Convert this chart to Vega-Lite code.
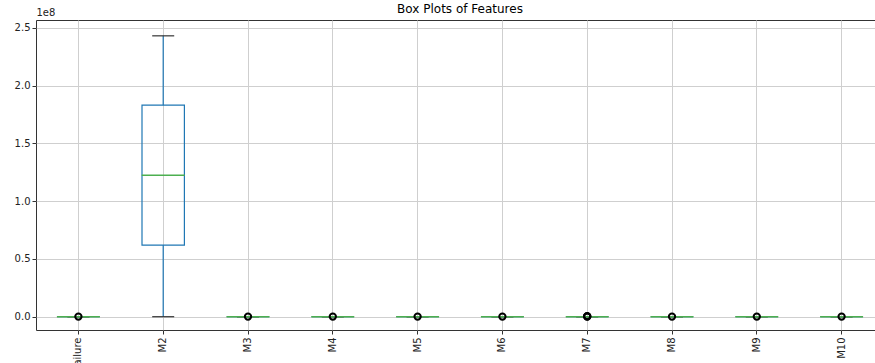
{
  "$schema": "https://vega.github.io/schema/vega-lite/v6.json",
  "autosize": {"type": "none"},
  "width": 848,
  "height": 310,
  "padding": {"left": 36, "top": 20, "right": 0, "bottom": 33},
  "background": "white",
  "title": {"text": "Box Plots of Features", "font": "DejaVu Sans", "fontSize": 12, "fontWeight": "normal", "color": "#000000", "anchor": "middle", "offset": -9},
  "config": {
    "view": {"stroke": "#333333", "strokeWidth": 1},
    "axis": {"labelFont": "DejaVu Sans", "labelFontSize": 10, "labelColor": "#222222", "gridColor": "#cfcfcf", "gridWidth": 1, "tickColor": "#333333", "tickSize": 4, "domain": false}
  },
  "datasets": {
    "stats": [
      {"feature": "failure", "min": 0, "q1": 0, "median": 0, "q3": 0, "max": 0},
      {"feature": "M2", "min": 0, "q1": 62000000, "median": 122400000, "q3": 183000000, "max": 243000000},
      {"feature": "M3", "min": 0, "q1": 0, "median": 0, "q3": 0, "max": 0},
      {"feature": "M4", "min": 0, "q1": 0, "median": 0, "q3": 0, "max": 0},
      {"feature": "M5", "min": 0, "q1": 0, "median": 0, "q3": 0, "max": 0},
      {"feature": "M6", "min": 0, "q1": 0, "median": 0, "q3": 0, "max": 0},
      {"feature": "M7", "min": 0, "q1": 0, "median": 0, "q3": 0, "max": 0},
      {"feature": "M8", "min": 0, "q1": 0, "median": 0, "q3": 0, "max": 0},
      {"feature": "M9", "min": 0, "q1": 0, "median": 0, "q3": 0, "max": 0},
      {"feature": "M10", "min": 0, "q1": 0, "median": 0, "q3": 0, "max": 0}
    ],
    "outliers": [
      {"feature": "failure", "value": 100000},
      {"feature": "M3", "value": 100000},
      {"feature": "M4", "value": 100000},
      {"feature": "M5", "value": 100000},
      {"feature": "M6", "value": 100000},
      {"feature": "M7", "value": 100000},
      {"feature": "M7", "value": 300000},
      {"feature": "M7", "value": 500000},
      {"feature": "M8", "value": 100000},
      {"feature": "M9", "value": 100000},
      {"feature": "M10", "value": 100000}
    ]
  },
  "encoding": {
    "x": {
      "field": "feature", "type": "nominal", "sort": null,
      "scale": {"domain": ["failure", "M2", "M3", "M4", "M5", "M6", "M7", "M8", "M9", "M10"], "paddingInner": 0, "paddingOuter": 0},
      "axis": {"title": null, "labelAngle": -90, "grid": true, "labelPadding": 3}
    }
  },
  "layer": [
    {
      "data": {"name": "stats"},
      "mark": {"type": "rule", "color": "#1f77b4", "strokeWidth": 1.2},
      "encoding": {
        "y": {"field": "min", "type": "quantitative",
          "scale": {"domain": [-11500000, 256700000], "nice": false, "zero": false},
          "axis": {"title": "1e8", "titleAngle": 0, "titleAlign": "left", "titleBaseline": "bottom", "titleX": 0, "titleY": -3, "titleFont": "DejaVu Sans", "titleFontSize": 10, "titleFontWeight": "normal", "titleColor": "#222222", "values": [0, 50000000, 100000000, 150000000, 200000000, 250000000], "labelExpr": "format(datum.value / 100000000, '.1f')", "grid": true}},
        "y2": {"field": "q1"}
      }
    },
    {
      "data": {"name": "stats"},
      "mark": {"type": "rule", "color": "#1f77b4", "strokeWidth": 1.2},
      "encoding": {
        "y": {"field": "q3", "type": "quantitative"},
        "y2": {"field": "max"}
      }
    },
    {
      "data": {"name": "stats"},
      "mark": {"type": "bar", "width": {"band": 0.5}, "fill": "white", "fillOpacity": 0, "stroke": "#1f77b4", "strokeWidth": 1.2},
      "encoding": {
        "y": {"field": "q1", "type": "quantitative"},
        "y2": {"field": "q3"}
      }
    },
    {
      "data": {"name": "stats"},
      "mark": {"type": "tick", "color": "#333333", "size": 22, "thickness": 1.2, "opacity": 1},
      "encoding": {"y": {"field": "min", "type": "quantitative"}}
    },
    {
      "data": {"name": "stats"},
      "mark": {"type": "tick", "color": "#333333", "size": 22, "thickness": 1.2, "opacity": 1},
      "encoding": {"y": {"field": "max", "type": "quantitative"}}
    },
    {
      "data": {"name": "stats"},
      "mark": {"type": "tick", "color": "#4caf50", "size": 43, "thickness": 1.5, "opacity": 1},
      "encoding": {"y": {"field": "median", "type": "quantitative"}}
    },
    {
      "data": {"name": "outliers"},
      "mark": {"type": "point", "shape": "circle", "filled": false, "stroke": "#000000", "strokeWidth": 2, "size": 40, "opacity": 1},
      "encoding": {"y": {"field": "value", "type": "quantitative"}}
    }
  ]
}
